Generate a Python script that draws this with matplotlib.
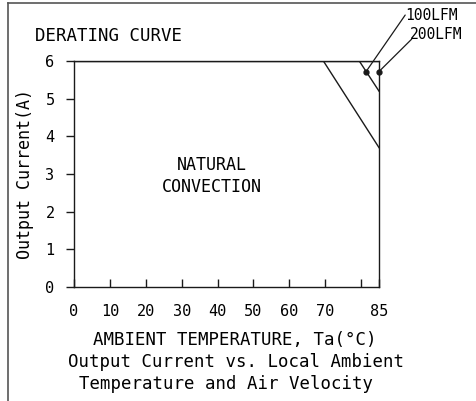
import numpy as np
import matplotlib
matplotlib.use("Agg")
import matplotlib.pyplot as plt
from matplotlib.lines import Line2D

plt.rcParams["font.family"] = "DejaVu Sans Mono"

# derating curves (temperature in C, current in A)
nat_x = [0, 69.5, 85]
nat_y = [6, 6, 3.7]
lfm100_x = [0, 79.5, 85]
lfm100_y = [6, 6, 5.2]
lfm200_x = [0, 85]
lfm200_y = [6, 6]

xticks = [0, 10, 20, 30, 40, 50, 60, 70, 80, 85]
xticklabels = ["0", "10", "20", "30", "40", "50", "60", "70", "", "85"]
yticks = [0, 1, 2, 3, 4, 5, 6]

# label dots, leader line ends and label spots
dot_x = [81.4, 85]
dot_y = [5.72, 5.72]
lead_x = [92.3, 94.1]
lead_y = [7.22, 6.58]
tag_x = [92.2, 93.6]
tag_y = [7.20, 6.71]
tags = ["100LFM", "200LFM"]

ink = "#1a1a1a"

fig = plt.figure(figsize=(4.76, 4.01), dpi=100)
ax = fig.add_axes([74/476, 1-287/401, 305/476, 226/401])

ax.plot(nat_x, nat_y, color=ink, lw=1.0)
ax.plot(lfm100_x, lfm100_y, color=ink, lw=1.0)
ax.plot(lfm200_x, lfm200_y, color=ink, lw=1.0)

ax.set_xlim(0, 85)
ax.set_ylim(0, 6)
for s in ax.spines.values():
    s.set_color(ink)
    s.set_linewidth(1.0)

ax.set_xticks(xticks)
ax.set_xticklabels(xticklabels)
ax.set_yticks(yticks)
ax.tick_params(axis="x", direction="in", length=5.5, width=1.0, pad=12,
               labelsize=11, color=ink)
ax.tick_params(axis="y", direction="out", length=6, width=1.0, pad=8,
               labelsize=11, color=ink)

ax.set_ylabel("Output Current(A)", fontsize=12, labelpad=8)

ax.text(38.5, 2.95, "NATURAL\nCONVECTION", ha="center", va="center",
        fontsize=12, linespacing=1.3)

ax.plot(dot_x, dot_y, "o", color=ink, ms=3.5, clip_on=False)
for i in range(2):
    ax.annotate("", xy=(dot_x[i], dot_y[i]), xytext=(lead_x[i], lead_y[i]),
                arrowprops=dict(arrowstyle="-", color=ink, lw=0.9,
                                shrinkA=0, shrinkB=0),
                annotation_clip=False)
    ax.text(tag_x[i], tag_y[i], tags[i], ha="left", va="center",
            fontsize=10.5, clip_on=False)

# frame of the sheet (top and left only)
fig.add_artist(Line2D([8/476, 8/476], [0, 1-3/401], color="#555555", lw=1.2))
fig.add_artist(Line2D([8/476, 1], [1-3/401, 1-3/401], color="#555555", lw=1.2))

fig.text(35/476, 1-36/401, "DERATING CURVE", ha="left", va="center", fontsize=12.5)
fig.text(235/476, 1-345/401, "AMBIENT TEMPERATURE, Ta(°C)", ha="center",
         va="baseline", fontsize=12.5)
fig.text(236/476, 1-367/401, "Output Current vs. Local Ambient", ha="center",
         va="baseline", fontsize=12.5)
fig.text(226/476, 1-389/401, "Temperature and Air Velocity", ha="center",
         va="baseline", fontsize=12.5)

fig.savefig("out.png", dpi=100)
